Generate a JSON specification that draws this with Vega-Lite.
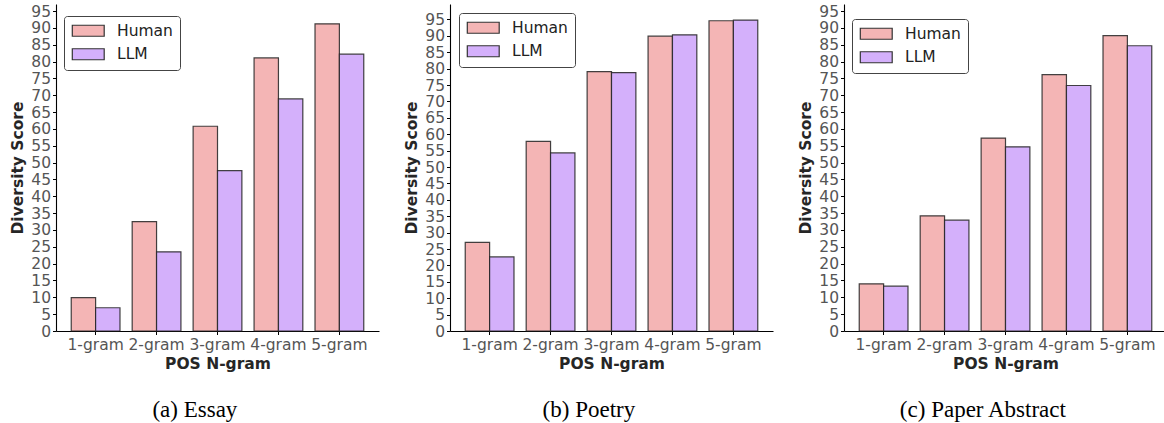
{
  "$schema": "https://vega.github.io/schema/vega-lite/v6.json",
  "padding": {"left": 10, "top": 4, "right": 0, "bottom": 0},
  "background": "white",
  "datasets": {
    "scores": [
      {"panel": "Essay", "ngram": "1-gram", "source": "Human", "score": 9.9},
      {"panel": "Essay", "ngram": "1-gram", "source": "LLM", "score": 6.9},
      {"panel": "Essay", "ngram": "2-gram", "source": "Human", "score": 32.5},
      {"panel": "Essay", "ngram": "2-gram", "source": "LLM", "score": 23.5},
      {"panel": "Essay", "ngram": "3-gram", "source": "Human", "score": 60.8},
      {"panel": "Essay", "ngram": "3-gram", "source": "LLM", "score": 47.6},
      {"panel": "Essay", "ngram": "4-gram", "source": "Human", "score": 81.1},
      {"panel": "Essay", "ngram": "4-gram", "source": "LLM", "score": 68.9},
      {"panel": "Essay", "ngram": "5-gram", "source": "Human", "score": 91.2},
      {"panel": "Essay", "ngram": "5-gram", "source": "LLM", "score": 82.2},
      {"panel": "Poetry", "ngram": "1-gram", "source": "Human", "score": 27.0},
      {"panel": "Poetry", "ngram": "1-gram", "source": "LLM", "score": 22.6},
      {"panel": "Poetry", "ngram": "2-gram", "source": "Human", "score": 57.8},
      {"panel": "Poetry", "ngram": "2-gram", "source": "LLM", "score": 54.3},
      {"panel": "Poetry", "ngram": "3-gram", "source": "Human", "score": 79.1},
      {"panel": "Poetry", "ngram": "3-gram", "source": "LLM", "score": 78.8},
      {"panel": "Poetry", "ngram": "4-gram", "source": "Human", "score": 89.9},
      {"panel": "Poetry", "ngram": "4-gram", "source": "LLM", "score": 90.3},
      {"panel": "Poetry", "ngram": "5-gram", "source": "Human", "score": 94.6},
      {"panel": "Poetry", "ngram": "5-gram", "source": "LLM", "score": 94.8},
      {"panel": "Paper Abstract", "ngram": "1-gram", "source": "Human", "score": 14.0},
      {"panel": "Paper Abstract", "ngram": "1-gram", "source": "LLM", "score": 13.3},
      {"panel": "Paper Abstract", "ngram": "2-gram", "source": "Human", "score": 34.2},
      {"panel": "Paper Abstract", "ngram": "2-gram", "source": "LLM", "score": 32.9},
      {"panel": "Paper Abstract", "ngram": "3-gram", "source": "Human", "score": 57.3},
      {"panel": "Paper Abstract", "ngram": "3-gram", "source": "LLM", "score": 54.7},
      {"panel": "Paper Abstract", "ngram": "4-gram", "source": "Human", "score": 76.1},
      {"panel": "Paper Abstract", "ngram": "4-gram", "source": "LLM", "score": 72.9},
      {"panel": "Paper Abstract", "ngram": "5-gram", "source": "Human", "score": 87.7},
      {"panel": "Paper Abstract", "ngram": "5-gram", "source": "LLM", "score": 84.7}
    ]
  },
  "config": {
    "font": "DejaVu Sans",
    "view": {"stroke": null},
    "axis": {
      "domainColor": "black",
      "domainWidth": 1.1,
      "tickColor": "black",
      "tickSize": 3.5,
      "tickWidth": 1,
      "grid": false,
      "labelFont": "DejaVu Sans",
      "labelFontSize": 15.5,
      "labelColor": "#555555",
      "titleFont": "DejaVu Sans",
      "titleFontSize": 15.5,
      "titleFontWeight": "bold",
      "titleColor": "#262626"
    },
    "axisX": {"labelAngle": 0, "labelPadding": 3, "titlePadding": 3},
    "axisY": {"labelPadding": 2, "titlePadding": 5},
    "legend": {
      "orient": "none",
      "title": null,
      "fillColor": "white",
      "strokeColor": "#444444",
      "cornerRadius": 3,
      "padding": 7,
      "rowPadding": 5.5,
      "symbolType": "M-2.9,-1H2.9V1H-2.9Z",
      "symbolSize": 121,
      "symbolOffset": 9.5,
      "symbolStrokeColor": "#333333",
      "symbolStrokeWidth": 1.2,
      "symbolOpacity": 1,
      "labelFont": "DejaVu Sans",
      "labelFontSize": 15.5,
      "labelColor": "#222222",
      "labelOffset": 21,
      "labelLimit": 200
    },
    "title": {
      "orient": "bottom",
      "frame": "bounds",
      "anchor": "middle",
      "font": "Liberation Serif",
      "fontSize": 23,
      "fontWeight": "normal",
      "color": "black",
      "offset": 27
    }
  },
  "spacing": 25,
  "resolve": {"legend": {"color": "independent"}, "scale": {"y": "independent"}},
  "hconcat": [
    {
      "title": "(a) Essay",
      "width": 323,
      "height": 327,
      "data": {"name": "scores"},
      "transform": [{"filter": "datum.panel === 'Essay'"}],
      "mark": {"type": "bar", "stroke": "#222222", "strokeOpacity": 0.85, "strokeWidth": 1.2},
      "encoding": {
        "x": {"field": "ngram", "type": "nominal", "sort": ["1-gram", "2-gram", "3-gram", "4-gram", "5-gram"],
              "scale": {"paddingInner": 0.2, "paddingOuter": 0.25}, "title": "POS N-gram"},
        "xOffset": {"field": "source", "type": "nominal", "sort": ["Human", "LLM"], "scale": {"paddingInner": 0, "paddingOuter": 0}},
        "y": {"field": "score", "type": "quantitative", "title": "Diversity Score",
              "scale": {"domain": [0, 97.1], "nice": false},
              "axis": {"values": [0, 5, 10, 15, 20, 25, 30, 35, 40, 45, 50, 55, 60, 65, 70, 75, 80, 85, 90, 95]}},
        "color": {"field": "source", "type": "nominal", "sort": ["Human", "LLM"],
                  "scale": {"domain": ["Human", "LLM"], "range": ["#F4B5B5", "#D4B0FB"]},
                  "legend": {"orient": "none", "legendX": 8, "legendY": 12, "labelFontSize": 15.5}}
      }
    },
    {
      "title": "(b) Poetry",
      "width": 323,
      "height": 327,
      "data": {"name": "scores"},
      "transform": [{"filter": "datum.panel === 'Poetry'"}],
      "mark": {"type": "bar", "stroke": "#222222", "strokeOpacity": 0.85, "strokeWidth": 1.2},
      "encoding": {
        "x": {"field": "ngram", "type": "nominal", "sort": ["1-gram", "2-gram", "3-gram", "4-gram", "5-gram"],
              "scale": {"paddingInner": 0.2, "paddingOuter": 0.25}, "title": "POS N-gram"},
        "xOffset": {"field": "source", "type": "nominal", "sort": ["Human", "LLM"], "scale": {"paddingInner": 0, "paddingOuter": 0}},
        "y": {"field": "score", "type": "quantitative", "title": "Diversity Score",
              "scale": {"domain": [0, 99.7], "nice": false},
              "axis": {"values": [0, 5, 10, 15, 20, 25, 30, 35, 40, 45, 50, 55, 60, 65, 70, 75, 80, 85, 90, 95]}},
        "color": {"field": "source", "type": "nominal", "sort": ["Human", "LLM"],
                  "scale": {"domain": ["Human", "LLM"], "range": ["#F4B5B5", "#D4B0FB"]},
                  "legend": {"orient": "none", "legendX": 9, "legendY": 9, "labelFontSize": 15.5}}
      }
    },
    {
      "title": "(c) Paper Abstract",
      "width": 323,
      "height": 327,
      "data": {"name": "scores"},
      "transform": [{"filter": "datum.panel === 'Paper Abstract'"}],
      "mark": {"type": "bar", "stroke": "#222222", "strokeOpacity": 0.85, "strokeWidth": 1.2},
      "encoding": {
        "x": {"field": "ngram", "type": "nominal", "sort": ["1-gram", "2-gram", "3-gram", "4-gram", "5-gram"],
              "scale": {"paddingInner": 0.2, "paddingOuter": 0.25}, "title": "POS N-gram"},
        "xOffset": {"field": "source", "type": "nominal", "sort": ["Human", "LLM"], "scale": {"paddingInner": 0, "paddingOuter": 0}},
        "y": {"field": "score", "type": "quantitative", "title": "Diversity Score",
              "scale": {"domain": [0, 97.1], "nice": false},
              "axis": {"values": [0, 5, 10, 15, 20, 25, 30, 35, 40, 45, 50, 55, 60, 65, 70, 75, 80, 85, 90, 95]}},
        "color": {"field": "source", "type": "nominal", "sort": ["Human", "LLM"],
                  "scale": {"domain": ["Human", "LLM"], "range": ["#F4B5B5", "#D4B0FB"]},
                  "legend": {"orient": "none", "legendX": 8, "legendY": 15, "labelFontSize": 15.5}}
      }
    }
  ]
}
